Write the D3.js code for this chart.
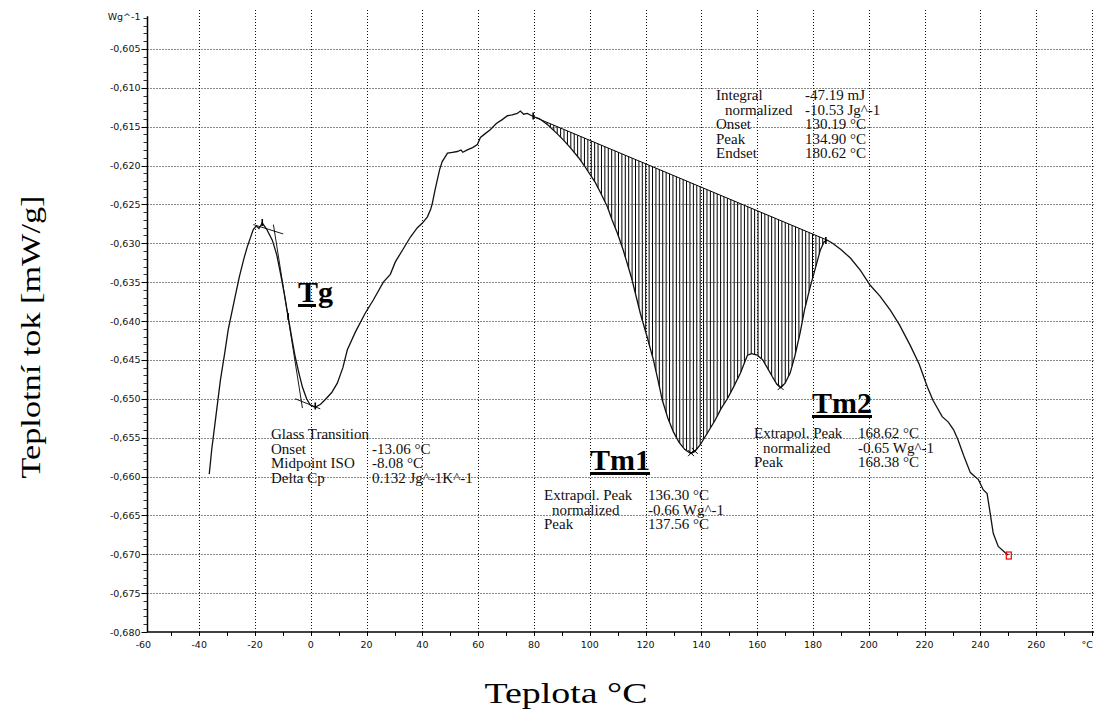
<!DOCTYPE html>
<html>
<head>
<meta charset="UTF-8">
<title>DSC</title>
<style>
  body { margin: 0; background: #fff; }
  svg { display: block; }
  .tick-lbl { font-family: "DejaVu Sans", Verdana, sans-serif; font-size: 9.5px; fill: #111; }
  .ann { font-family: "Liberation Serif", "Times New Roman", serif; font-size: 15px; fill: #111; }
  .big { font-family: "Liberation Serif", "Times New Roman", serif; font-size: 30px; font-weight: bold; fill: #000; text-decoration: underline; }
  .title { font-family: "Liberation Serif", "Times New Roman", serif; fill: #000; }
</style>
</head>
<body>
<svg id="chart" width="1094" height="715"></svg>
<script src="https://d3js.org/d3.v7.min.js"></script>
<script>
// DSC curve, temperature in degC
var temps = [-36.4, -35.5, -34.1, -32.4, -30.8, -29.6, -27.5, -25.6, -24.0, -22.8, -20.6, -19.5, -18.6, -17.4, -15.8, -13.8,
  -12.2, -10.9, -9.5, -8.1, -6.8, -5.6, -4.2, -3.0, -1.5, -0.2, 1.6, 3.5, 5.2, 7.5, 9.5, 11.5, 13.1, 16.0, 19.5, 22.4,
  26.0, 28.5, 30.3, 33.0, 35.7, 38.2, 40.0, 41.8, 43.0, 43.6, 44.5, 45.3, 46.2, 47.1, 49.0, 50.8, 52.5, 53.8, 54.5, 56.1,
  58.0, 59.7, 60.8, 62.5, 64.3, 66.5, 68.6, 70.5, 72.2, 74.0, 75.1, 76.3, 77.6, 79.7, 82, 85, 88, 90.5, 93, 96, 98,
  100.2, 102, 104, 106.3, 108, 110, 112, 115, 118.1, 120.5, 122.8, 124.5, 126, 128, 130, 132, 134, 136, 137.6, 139.6,
  142, 145, 147, 149.3, 151.5, 154, 156.5, 158, 160, 162, 163.6, 165.5, 167, 168.4, 170, 171.8, 173.5, 175.4, 177, 179,
  181, 182.6, 184, 185.1, 187, 190, 193.4, 197, 200.5, 204, 207.7, 211, 214.8, 218, 221, 223, 226.3, 228.5, 230.4,
  232, 234, 236.4, 238, 239.3, 241, 242.4, 243.5, 244.6, 246.4, 248.9, 250];
var heatFlow = [-0.6597, -0.6565, -0.6525, -0.6476, -0.6440, -0.6411, -0.6375, -0.6343, -0.6320, -0.6305, -0.6282, -0.6278,
  -0.6281, -0.6274, -0.6282, -0.6296, -0.6315, -0.6338, -0.6365, -0.6395, -0.6422, -0.6446, -0.6468, -0.6485, -0.6500,
  -0.6508, -0.6511, -0.6507, -0.6501, -0.6492, -0.6480, -0.6460, -0.6437, -0.6414, -0.6390, -0.6373, -0.6350, -0.6340,
  -0.6324, -0.6308, -0.6292, -0.6280, -0.6274, -0.6266, -0.6256, -0.6248, -0.6232, -0.6219, -0.6205, -0.6195, -0.6184,
  -0.6183, -0.6182, -0.6180, -0.6183, -0.6180, -0.6177, -0.6173, -0.6164, -0.6159, -0.6154, -0.6146, -0.6141, -0.6136,
  -0.6135, -0.6133, -0.6130, -0.6134, -0.6133, -0.6137, -0.6140, -0.6148, -0.6158, -0.6167, -0.6177, -0.6190, -0.6200,
  -0.6212, -0.6222, -0.6236, -0.6253, -0.6270, -0.6288, -0.6309, -0.6345, -0.6390, -0.6420, -0.6450, -0.6477, -0.6502,
  -0.6525, -0.6543, -0.6556, -0.6565, -0.6570, -0.6568, -0.6559, -0.6545, -0.6527, -0.6513, -0.6500, -0.6485, -0.6467,
  -0.6444, -0.6442, -0.6444, -0.6450, -0.6460, -0.6472, -0.6481, -0.6486, -0.6480, -0.6467, -0.6445, -0.6415, -0.6385,
  -0.6356, -0.6330, -0.6309, -0.6298, -0.6296, -0.6300, -0.6308, -0.6319, -0.6335, -0.6354, -0.6368, -0.6386, -0.6405,
  -0.6431, -0.6455, -0.6485, -0.6502, -0.6523, -0.6530, -0.6540, -0.6553, -0.6573, -0.6595, -0.6600, -0.6604, -0.6617,
  -0.6622, -0.6647, -0.6673, -0.6690, -0.6698, -0.6701];

// integration baseline (onset -> endset)
var baseT = [79.7, 185.1];
var baseY = [-0.6137, -0.6296];

// Tg tangents [t1, y1, t2, y2]
var tangents = [
  [-20.6, -0.6276, -9.9, -0.6288],
  [-13.4, -0.6276, -3.0, -0.6512],
  [-5.6, -0.6500, 3.4, -0.6513]
];

// peak markers
var crossT = [136.3, 137.6, 168.4];
var crossY = [-0.6570, -0.6567, -0.6485];
var tickT = [-17.4, 1.6, -8.1, 79.7, 184.6];
var tickY = [-0.6274, -0.6510, -0.6395, -0.6137, -0.6297];

var xTicks = d3.range(-60, 281, 20);
var yTicks = d3.range(-0.680, -0.6049, 0.005);

var svg = d3.select("#chart"),
    width = +svg.attr("width"),
    height = +svg.attr("height");

var x = d3.scaleLinear().domain([-60, 280]).range([143.4, 1092]);
var y = d3.scaleLinear().domain([-0.680, -0.600]).range([632, 10]);
var axisX = 147.5;

// grid
var grid = svg.append("g").attr("stroke", "#111").attr("stroke-dasharray", "1,2").attr("stroke-width", 1);
grid.selectAll("line.v")
    .data(xTicks.filter(d => d > -60))
    .join("line")
    .attr("class", "v")
    .attr("x1", d => Math.round(x(d)) + 0.5).attr("x2", d => Math.round(x(d)) + 0.5)
    .attr("y1", y(-0.600)).attr("y2", y(-0.680));
grid.selectAll("line.h")
    .data(yTicks.filter(d => d > -0.6795))
    .join("line")
    .attr("class", "h")
    .attr("x1", axisX).attr("x2", width)
    .attr("y1", d => Math.round(y(d)) + 0.5).attr("y2", d => Math.round(y(d)) + 0.5);

// y axis
var ya = svg.append("g").attr("stroke", "#000");
ya.append("line").attr("x1", axisX).attr("x2", axisX).attr("y1", y(-0.6008)).attr("y2", y(-0.680)).attr("stroke-width", 1.5);
ya.selectAll("line.minor")
    .data(d3.range(-0.680, -0.6005, 0.001))
    .join("line")
    .attr("class", "minor")
    .attr("x1", axisX - 4).attr("x2", axisX)
    .attr("y1", d => Math.round(y(d)) + 0.5).attr("y2", d => Math.round(y(d)) + 0.5)
    .attr("stroke-width", 0.8);
ya.selectAll("line.major")
    .data(yTicks)
    .join("line")
    .attr("class", "major")
    .attr("x1", axisX - 6).attr("x2", axisX)
    .attr("y1", d => Math.round(y(d)) + 0.5).attr("y2", d => Math.round(y(d)) + 0.5);
svg.append("g").selectAll("text")
    .data(yTicks)
    .join("text")
    .attr("class", "tick-lbl")
    .attr("x", axisX - 7).attr("y", d => y(d) + 3.5)
    .attr("text-anchor", "end")
    .text(d => d.toFixed(3).replace(".", ","));
svg.append("text").attr("class", "tick-lbl")
    .attr("x", axisX - 7).attr("y", 20).attr("text-anchor", "end").text("Wg^-1");

// x axis
var xa = svg.append("g").attr("stroke", "#000");
xa.append("line").attr("x1", axisX).attr("x2", width).attr("y1", y(-0.680)).attr("y2", y(-0.680)).attr("stroke-width", 1.5);
xa.selectAll("line.minor")
    .data(d3.range(-50, 281, 10))
    .join("line")
    .attr("class", "minor")
    .attr("x1", d => Math.round(x(d)) + 0.5).attr("x2", d => Math.round(x(d)) + 0.5)
    .attr("y1", y(-0.680)).attr("y2", y(-0.680) + 4);
svg.append("g").selectAll("text")
    .data(xTicks)
    .join("text")
    .attr("class", "tick-lbl")
    .attr("x", d => d == 280 ? width - 1 : x(d)).attr("y", y(-0.680) + 16)
    .attr("text-anchor", d => d == 280 ? "end" : "middle")
    .text(d => d == 280 ? "\u00b0C" : String(d));

// hatch of integral area
var curveAt = d3.scaleLinear().domain(temps).range(heatFlow);
var baseAt = d3.scaleLinear().domain(baseT).range(baseY);
svg.append("g").attr("stroke", "#000").attr("stroke-width", 1)
    .selectAll("line")
    .data(d3.range(81, 184.6, 1.22))
    .join("line")
    .attr("x1", d => x(d)).attr("x2", d => x(d))
    .attr("y1", d => y(baseAt(d))).attr("y2", d => y(curveAt(d)));

// baseline
svg.append("line")
    .attr("x1", x(baseT[0])).attr("y1", y(baseY[0]))
    .attr("x2", x(baseT[1])).attr("y2", y(baseY[1]))
    .attr("stroke", "#000").attr("stroke-width", 1);

// tangents
svg.append("g").attr("stroke", "#000").attr("stroke-width", 0.9)
    .selectAll("line")
    .data(tangents)
    .join("line")
    .attr("x1", d => x(d[0])).attr("y1", d => y(d[1]))
    .attr("x2", d => x(d[2])).attr("y2", d => y(d[3]));

// main curve
var line = d3.line().x(d => x(d[0])).y(d => y(d[1]));
svg.append("path")
    .datum(temps.map((t, i) => [t, heatFlow[i]]))
    .attr("d", line)
    .attr("fill", "none")
    .attr("stroke", "#111")
    .attr("stroke-width", 1.3);

// markers
svg.append("g").attr("stroke", "#000").attr("stroke-width", 1)
    .selectAll("path")
    .data(crossT.map((t, i) => [t, crossY[i]]))
    .join("path")
    .attr("d", d => {
        var cx = x(d[0]), cy = y(d[1]);
        return "M" + (cx - 3) + "," + (cy - 3) + "L" + (cx + 3) + "," + (cy + 3) + "M" + (cx - 3) + "," + (cy + 3) + "L" + (cx + 3) + "," + (cy - 3);
    });
svg.append("g").attr("stroke", "#000").attr("stroke-width", 1.6)
    .selectAll("line")
    .data(tickT.map((t, i) => [t, tickY[i]]))
    .join("line")
    .attr("x1", d => x(d[0])).attr("x2", d => x(d[0]))
    .attr("y1", d => y(d[1]) - 4).attr("y2", d => y(d[1]) + 3);

// end marker
var lastT = temps[temps.length - 1], lastY = heatFlow[heatFlow.length - 1];
svg.append("rect")
    .attr("x", x(lastT) - 2).attr("y", y(lastY) - 3)
    .attr("width", 5).attr("height", 7)
    .attr("fill", "none").attr("stroke", "#e00").attr("stroke-width", 1.2);

// annotation blocks
function block(rows, x0, xi, xv, y0) {
    var g = svg.append("g");
    rows.forEach((r, i) => {
        g.append("text").attr("class", "ann").attr("x", r[2] ? xi : x0).attr("y", y0 + i * 14.6).text(r[0]);
        g.append("text").attr("class", "ann").attr("x", xv).attr("y", y0 + i * 14.6).text(r[1]);
    });
}
block([["Integral", "-47.19 mJ"], ["normalized", "-10.53 Jg^-1", 1], ["Onset", "130.19 \u00b0C"], ["Peak", "134.90 \u00b0C"], ["Endset", "180.62 \u00b0C"]],
    716, 725, 805, 100);
block([["Glass Transition", ""], ["Onset", "-13.06 \u00b0C"], ["Midpoint ISO", "-8.08 \u00b0C"], ["Delta Cp", "0.132 Jg^-1K^-1"]],
    271, 271, 372, 439);
block([["Extrapol. Peak", "136.30 \u00b0C"], ["normalized", "-0.66 Wg^-1", 1], ["Peak", "137.56 \u00b0C"]],
    544, 552, 648, 500);
block([["Extrapol. Peak", "168.62 \u00b0C"], ["normalized", "-0.65 Wg^-1", 1], ["Peak", "168.38 \u00b0C"]],
    754, 763, 858, 438);

svg.append("text").attr("class", "big").attr("x", 298).attr("y", 302).text("Tg");
svg.append("text").attr("class", "big").attr("x", 590).attr("y", 470).text("Tm1");
svg.append("text").attr("class", "big").attr("x", 812).attr("y", 413).text("Tm2");

// axis titles
svg.append("text").attr("class", "title")
    .attr("x", 566).attr("y", 703)
    .attr("text-anchor", "middle")
    .attr("font-size", 30)
    .attr("textLength", 163).attr("lengthAdjust", "spacingAndGlyphs")
    .text("Teplota \u00b0C");
svg.append("text").attr("class", "title")
    .attr("transform", "translate(40,337) rotate(-90)")
    .attr("text-anchor", "middle")
    .attr("font-size", 28)
    .attr("textLength", 283).attr("lengthAdjust", "spacingAndGlyphs")
    .text("Teplotní tok [mW/g]");
</script>
</body>
</html>
